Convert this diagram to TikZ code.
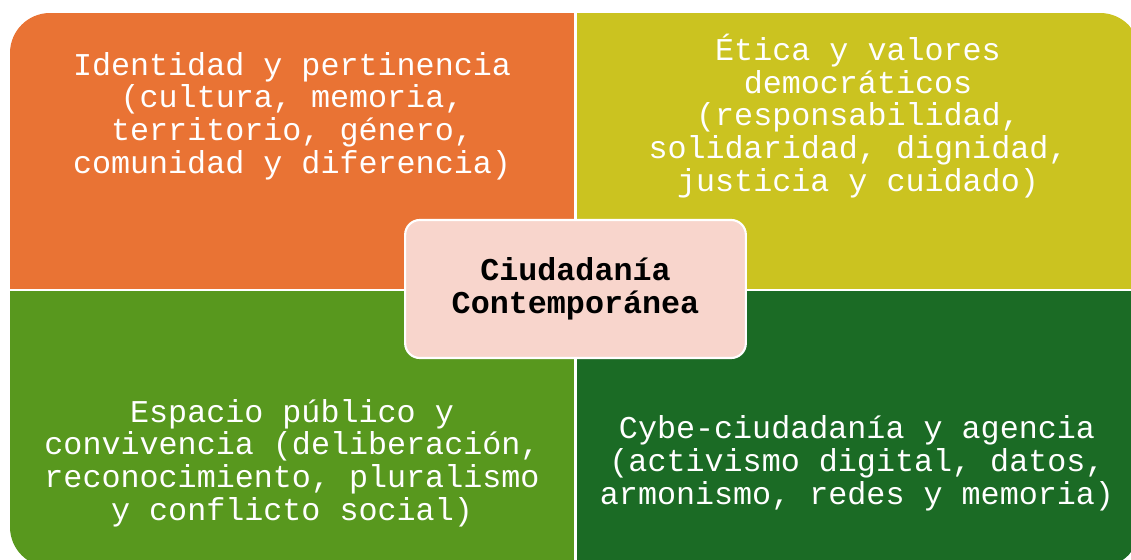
\documentclass[tikz,border=0pt]{standalone}
\usepackage{fontspec}
\setmainfont{Liberation Mono}
\usepackage{tikz}

\definecolor{naranja}{HTML}{E97334}
\definecolor{amarillo}{HTML}{CBC320}
\definecolor{verdeclaro}{HTML}{58981E}
\definecolor{verdeoscuro}{HTML}{1B6B25}
\definecolor{rosado}{HTML}{F8D5CC}

\begin{document}
\begin{tikzpicture}[x=0.75pt,y=-0.75pt,
    eje/.style={text=white, align=center, inner sep=0pt,
        font=\fontsize{23.8}{24.6}\selectfont},
    centro/.style={draw=white, line width=1.6pt, fill=rosado,
        rounded corners=11pt, align=center, inner sep=0pt,
        minimum width=255.5pt, minimum height=103.5pt,
        font=\fontsize{23.8}{24.6}\selectfont\bfseries}]
    \useasboundingbox (0,0) rectangle (1131,560);
    % cuadrantes
    \begin{scope}
        \clip[rounded corners=30pt] (10,13) rectangle (1140,567);
        \fill[naranja] (10,13) rectangle (574,288.5);
        \fill[amarillo] (577,13) rectangle (1140,288.5);
        \fill[verdeclaro] (10,291) rectangle (574,567);
        \fill[verdeoscuro] (577,291) rectangle (1140,567);
    \end{scope}
    \node[eje] (identidad) at (292,116) {Identidad y pertinencia\\(cultura, memoria,\\territorio, género,\\comunidad y diferencia)};
    \node[eje] (etica) at (858,116) {Ética y valores\\democráticos\\(responsabilidad,\\solidaridad, dignidad,\\justicia y cuidado)};
    \node[eje] (espacio) at (292,463) {Espacio público y\\convivencia (deliberación,\\reconocimiento, pluralismo\\y conflicto social)};
    \node[eje] (cyber) at (857,463) {Cybe-ciudadanía y agencia\\(activismo digital, datos,\\armonismo, redes y memoria)};
    % centro
    \node[centro] (ciudadania) at (575.5,289) {Ciudadanía\\Contemporánea};
\end{tikzpicture}
\end{document}
